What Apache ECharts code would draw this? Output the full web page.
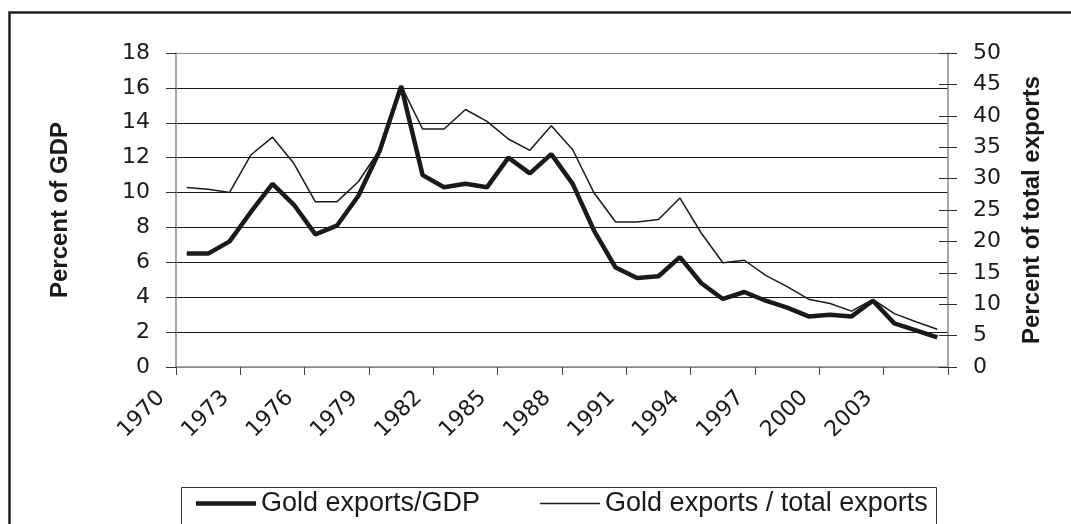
<!DOCTYPE html>
<html>
<head>
<meta charset="utf-8">
<script src="https://cdn.jsdelivr.net/npm/echarts@6/dist/echarts.min.js"></script>
<style>
  html, body { margin: 0; padding: 0; background: #fff; }
  #chart { width: 1071px; height: 524px; }
</style>
</head>
<body>
<div id="chart"></div>
<script>
// years on the category axis
var years = [];
for (var y = 1970; y <= 2005; y++) years.push(String(y));

// gold exports as percent of GDP (left axis)
var goldGdp = [6.5, 6.5, 7.2, 8.9, 10.5, 9.3, 7.6, 8.1, 9.8, 12.4,
               16.1, 11.0, 10.3, 10.5, 10.3, 12.0, 11.1, 12.2, 10.5, 7.8,
               5.7, 5.1, 5.2, 6.3, 4.8, 3.9, 4.3, 3.8, 3.4, 2.9,
               3.0, 2.9, 3.8, 2.5, 2.1, 1.7];

// gold exports as percent of total exports (right axis)
var goldTotal = [28.6, 28.3, 27.8, 33.8, 36.6, 32.4, 26.3, 26.3, 29.5, 34.6,
                 44.8, 37.9, 37.9, 41.0, 39.1, 36.3, 34.5, 38.4, 34.6, 27.7,
                 23.1, 23.1, 23.5, 26.9, 21.3, 16.6, 17.0, 14.6, 12.8, 10.8,
                 10.1, 8.9, 10.75, 8.5, 7.2, 6.0];

var seriesNames = ['Gold exports/GDP', 'Gold exports / total exports'];

var ink = '#1a1a1a';
var frame = '#8a8a8a';
var font = '"Liberation Sans", Arial, sans-serif';
var tickFont = '"DejaVu Sans", sans-serif';

var chart = echarts.init(document.getElementById('chart'));
var option = {
    animation: false,
    backgroundColor: '#fff',
    grid: {
        left: 176,
        right: 123,
        top: 53,
        bottom: 157,
        containLabel: false
    },
    // outer frame and legend box
    graphic: [
        {
            type: 'rect',
            shape: { x: 9.5, y: 12.5, width: 1200, height: 700 },
            style: { fill: null, stroke: '#222', lineWidth: 2.5 },
            silent: true
        },
        {
            type: 'rect',
            shape: { x: 181.5, y: 487.5, width: 755, height: 100 },
            style: { fill: null, stroke: '#333', lineWidth: 1 },
            silent: true
        }
    ],
    legend: {
        left: 191,
        top: 485,
        itemGap: 60,
        itemWidth: 60,
        itemHeight: 14,
        textStyle: { color: ink, fontSize: 27, fontFamily: font },
        data: [
            { name: seriesNames[0], icon: 'path://M0,0 L60,0 L60,4.5 L0,4.5 Z', itemStyle: { color: ink } },
            { name: seriesNames[1], icon: 'path://M0,0 L60,0 L60,1.5 L0,1.5 Z', itemStyle: { color: ink } }
        ]
    },
    xAxis: {
        type: 'category',
        boundaryGap: true,
        data: years,
        axisLine: { lineStyle: { color: frame, width: 1.5 } },
        axisTick: { show: true, interval: 2, length: 8, lineStyle: { color: '#444', width: 1 } },
        axisLabel: {
            interval: 2,
            rotate: 45,
            margin: 2,
            padding: [0, 36, 0, 0],
            color: ink,
            fontSize: 22,
            fontFamily: tickFont
        },
        splitLine: { show: false }
    },
    yAxis: [
        {
            type: 'value',
            position: 'left',
            min: 0,
            max: 18,
            interval: 2,
            name: 'Percent of GDP',
            nameLocation: 'middle',
            nameRotate: 90,
            nameGap: 104,
            nameTextStyle: { color: ink, fontSize: 24, fontWeight: 'bold', fontFamily: font },
            axisLine: { show: true, lineStyle: { color: frame, width: 1.5 } },
            axisTick: { show: true, length: 10, lineStyle: { color: '#333' } },
            axisLabel: { color: ink, fontSize: 22, fontFamily: tickFont, margin: 26 },
            splitLine: {
                show: true,
                lineStyle: {
                    color: [frame, ink, ink, ink, ink, ink, ink, ink, ink, frame],
                    width: 1.2
                }
            }
        },
        {
            type: 'value',
            position: 'right',
            min: 0,
            max: 50,
            interval: 5,
            name: 'Percent of total exports',
            nameLocation: 'middle',
            nameRotate: 90,
            nameGap: 72,
            nameTextStyle: { color: ink, fontSize: 24, fontWeight: 'bold', fontFamily: font },
            axisLine: { show: true, lineStyle: { color: frame, width: 1.5 } },
            axisTick: { show: true, length: 9, lineStyle: { color: '#333' } },
            axisLabel: { color: ink, fontSize: 22, fontFamily: tickFont, margin: 25 },
            splitLine: { show: false }
        },
        {
            // inner half of the crossing ticks on the right axis
            type: 'value',
            position: 'right',
            min: 0,
            max: 50,
            interval: 5,
            axisLine: { show: false },
            axisTick: { show: true, inside: true, length: 9, lineStyle: { color: '#333' } },
            axisLabel: { show: false },
            splitLine: { show: false }
        }
    ],
    series: [
        {
            name: seriesNames[0],
            type: 'line',
            yAxisIndex: 0,
            data: goldGdp,
            symbol: 'none',
            lineStyle: { color: ink, width: 4.5 },
            itemStyle: { color: ink }
        },
        {
            name: seriesNames[1],
            type: 'line',
            yAxisIndex: 1,
            data: goldTotal,
            symbol: 'none',
            lineStyle: { color: ink, width: 1.5 },
            itemStyle: { color: ink }
        }
    ]
};
chart.setOption(option);
</script>
</body>
</html>
